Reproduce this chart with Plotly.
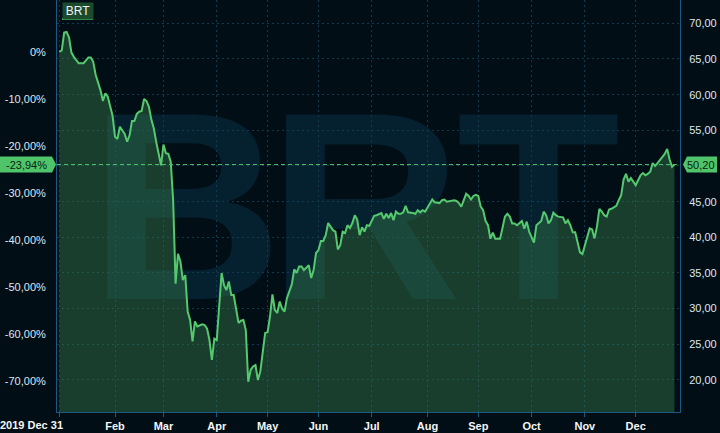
import plotly.graph_objects as go

# ---------------- data ----------------
dates = [
    "2019-12-31", "2020-01-02", "2020-01-03", "2020-01-06", "2020-01-07", "2020-01-08", "2020-01-09", "2020-01-10",
    "2020-01-13", "2020-01-14", "2020-01-15", "2020-01-16", "2020-01-17", "2020-01-20", "2020-01-21", "2020-01-22",
    "2020-01-23", "2020-01-24", "2020-01-27", "2020-01-28", "2020-01-29", "2020-01-30", "2020-01-31",
    "2020-02-03", "2020-02-04", "2020-02-05", "2020-02-06", "2020-02-07", "2020-02-10", "2020-02-11", "2020-02-12",
    "2020-02-13", "2020-02-14", "2020-02-17", "2020-02-18", "2020-02-19", "2020-02-20", "2020-02-21", "2020-02-24",
    "2020-02-25", "2020-02-26", "2020-02-27", "2020-02-28",
    "2020-03-02", "2020-03-03", "2020-03-04", "2020-03-05", "2020-03-06", "2020-03-09", "2020-03-10", "2020-03-11",
    "2020-03-12", "2020-03-13", "2020-03-16", "2020-03-17", "2020-03-18", "2020-03-19", "2020-03-20", "2020-03-23",
    "2020-03-24", "2020-03-25", "2020-03-26", "2020-03-27", "2020-03-30", "2020-03-31",
    "2020-04-01", "2020-04-02", "2020-04-03", "2020-04-06", "2020-04-07", "2020-04-08", "2020-04-09", "2020-04-13",
    "2020-04-14", "2020-04-15", "2020-04-16", "2020-04-17", "2020-04-20", "2020-04-21", "2020-04-22", "2020-04-23",
    "2020-04-24", "2020-04-27", "2020-04-28", "2020-04-29", "2020-04-30",
    "2020-05-01", "2020-05-04", "2020-05-05", "2020-05-06", "2020-05-07", "2020-05-08", "2020-05-11", "2020-05-12",
    "2020-05-13", "2020-05-14", "2020-05-15", "2020-05-18", "2020-05-19", "2020-05-20", "2020-05-21", "2020-05-22",
    "2020-05-25", "2020-05-26", "2020-05-27", "2020-05-28", "2020-05-29",
    "2020-06-01", "2020-06-02", "2020-06-03", "2020-06-04", "2020-06-05", "2020-06-08", "2020-06-09", "2020-06-10",
    "2020-06-11", "2020-06-12", "2020-06-15", "2020-06-16", "2020-06-17", "2020-06-18", "2020-06-19", "2020-06-22",
    "2020-06-23", "2020-06-24", "2020-06-25", "2020-06-26", "2020-06-29", "2020-06-30",
    "2020-07-01", "2020-07-02", "2020-07-03", "2020-07-06", "2020-07-07", "2020-07-08", "2020-07-09", "2020-07-10",
    "2020-07-13", "2020-07-14", "2020-07-15", "2020-07-16", "2020-07-17", "2020-07-20", "2020-07-21", "2020-07-22",
    "2020-07-23", "2020-07-24", "2020-07-27", "2020-07-28", "2020-07-29", "2020-07-30", "2020-07-31",
    "2020-08-03", "2020-08-04", "2020-08-05", "2020-08-06", "2020-08-07", "2020-08-10", "2020-08-11", "2020-08-12",
    "2020-08-13", "2020-08-14", "2020-08-17", "2020-08-18", "2020-08-19", "2020-08-20", "2020-08-21", "2020-08-24",
    "2020-08-25", "2020-08-26", "2020-08-27", "2020-08-28", "2020-08-31",
    "2020-09-01", "2020-09-02", "2020-09-03", "2020-09-04", "2020-09-07", "2020-09-08", "2020-09-09", "2020-09-10",
    "2020-09-11", "2020-09-14", "2020-09-15", "2020-09-16", "2020-09-17", "2020-09-18", "2020-09-21", "2020-09-22",
    "2020-09-23", "2020-09-24", "2020-09-25", "2020-09-28", "2020-09-29", "2020-09-30",
    "2020-10-01", "2020-10-02", "2020-10-05", "2020-10-06", "2020-10-07", "2020-10-08", "2020-10-09", "2020-10-12",
    "2020-10-13", "2020-10-14", "2020-10-15", "2020-10-16", "2020-10-19", "2020-10-20", "2020-10-21", "2020-10-22",
    "2020-10-23", "2020-10-26", "2020-10-27", "2020-10-28", "2020-10-29", "2020-10-30",
    "2020-11-02", "2020-11-03", "2020-11-04", "2020-11-05", "2020-11-06", "2020-11-09", "2020-11-10", "2020-11-11",
    "2020-11-12", "2020-11-13", "2020-11-16", "2020-11-17", "2020-11-18", "2020-11-19", "2020-11-20", "2020-11-23",
    "2020-11-24", "2020-11-25", "2020-11-26", "2020-11-27", "2020-11-30",
    "2020-12-01", "2020-12-02", "2020-12-03", "2020-12-04", "2020-12-07", "2020-12-08", "2020-12-09", "2020-12-10",
    "2020-12-11", "2020-12-14", "2020-12-15", "2020-12-16", "2020-12-17", "2020-12-18", "2020-12-21", "2020-12-22",
    "2020-12-23",
]
prices = [
    66.0, 66.2, 68.7, 68.8, 68.0, 65.9, 65.3, 64.9,
    64.4, 64.4, 64.4, 64.8, 65.2, 65.2, 64.6, 62.8,
    61.8, 60.6, 59.1, 60.2, 59.7, 58.5, 57.0,
    54.1, 53.8, 55.5, 55.0, 54.5, 53.4, 54.3, 56.3,
    56.3, 57.3, 57.6, 57.7, 59.4, 59.1, 58.3, 56.5,
    55.3, 53.4, 51.8, 50.1,
    53.0, 51.8, 51.7, 50.6, 45.2, 33.5, 37.7, 36.6,
    34.0, 34.7, 29.6, 28.4, 25.4, 28.2, 27.5, 27.7,
    27.8, 27.7, 27.2, 25.6, 22.8, 25.8,
    25.6, 30.3, 35.0, 33.3, 32.6, 33.8, 31.9, 31.9,
    29.8, 28.0, 28.3, 28.4, 27.0, 19.75, 21.4, 21.9,
    22.1, 20.0, 21.2, 23.7, 26.6,
    26.7, 28.9, 32.0, 29.8, 29.4, 31.0, 30.0, 29.6,
    31.5, 32.6, 33.4, 35.5, 35.0, 35.9, 35.9, 35.4,
    35.8, 36.1, 34.3, 35.4, 37.8,
    38.2, 39.5, 39.5, 40.3, 42.0, 41.5, 41.0, 40.8,
    38.3, 38.9, 40.8, 40.6, 41.7, 41.3, 42.0, 43.1,
    42.5, 40.3, 41.4, 40.8, 41.7, 41.6,
    42.4, 43.0, 43.1, 43.2, 43.4, 42.6, 43.3, 42.7,
    43.4, 42.4, 43.6, 43.3, 43.3, 43.5, 44.4, 43.5,
    43.5, 43.4, 43.3, 43.8, 43.5, 43.8, 43.6,
    44.2, 44.6, 45.3, 44.9, 44.9, 44.8, 45.2, 45.3,
    45.0, 45.1, 45.2, 45.2, 45.1, 44.8, 44.3, 45.1,
    46.1, 45.8, 45.3, 45.8, 45.95,
    45.8, 44.3, 43.8, 42.3, 41.7, 39.8, 40.65, 39.8,
    39.8, 39.8, 41.3, 42.9, 43.3, 42.9, 41.95, 41.95,
    41.7, 42.0, 42.3, 41.2, 42.2, 40.8,
    40.0, 39.25, 41.7, 42.0, 42.3, 43.6, 43.1, 41.95,
    42.4, 43.45, 43.1, 42.9, 42.9, 42.8, 41.95, 42.4,
    41.7, 40.7, 40.7, 39.2, 37.9, 37.65,
    38.9, 39.85, 41.25, 41.1, 39.85, 41.5, 44.0, 43.6,
    43.1, 42.9, 43.9, 44.0, 44.2, 44.4, 45.2, 45.9,
    48.1, 48.9, 47.8, 48.3, 47.8,
    47.3, 48.0, 48.7, 49.0, 48.7, 48.9, 49.2, 50.4,
    50.0, 50.4, 50.8, 51.2, 51.7, 52.4, 50.9, 49.9,
    50.2,
]
series_name = "BRT"
holidays = ["2020-01-01", "2020-04-10"]
x_tick_vals = ["2019-12-31", "2020-02-03", "2020-03-02", "2020-04-01", "2020-05-01", "2020-06-01",
               "2020-07-01", "2020-08-03", "2020-09-01", "2020-10-01", "2020-11-02", "2020-12-01"]
x_tick_text = ["", "Feb", "Mar", "Apr", "May", "Jun", "Jul", "Aug", "Sep", "Oct", "Nov", "Dec"]
first_tick_label = "2019 Dec 31"
price_ticks = [20, 25, 30, 35, 40, 45, 50, 55, 60, 65, 70]
pct_ticks = [0, -10, -20, -30, -40, -50, -60, -70]
pct_tick_text = ["0%", "-10,00%", "-20,00%", "-30,00%", "-40,00%", "-50,00%", "-60,00%", "-70,00%"]

# ---------------- style / layout ----------------
W, H = 720, 433
ML, MR, MT, MB = 57, 40, 0, 21
PW, PH = W - ML - MR, H - MT - MB
Y_MIN, Y_MAX = 15.51, 73.27

BG = "#020e16"
GRID = "#0f3a50"
AXIS = "#1b5a85"
LINE = "#55c96e"
FILL = "rgba(54,122,74,0.45)"
BADGE = "#4fc46a"
MARK = "#05202e"
TXT = "#dfe7ee"
FONT = "Liberation Sans, Arial"

def px2x(px):
    return (px - ML) / PW

def py2y(py):
    return 1 - (py - MT) / PH

base = prices[0]
last = prices[-1]
pct = [(p / base - 1) * 100 for p in prices]
last_pct = (last / base - 1) * 100

def fmt_comma(v, suffix=""):
    return f"{v:.2f}".replace(".", ",") + suffix

fig = go.Figure()
fig.add_trace(go.Scatter(
    x=dates, y=prices, mode="lines", line=dict(color=LINE, width=2),
    fill="tozeroy", fillcolor=FILL, name=series_name, hoverinfo="skip", yaxis="y",
))
fig.add_trace(go.Scatter(
    x=dates, y=pct, mode="lines", line=dict(width=0, color="rgba(0,0,0,0)"),
    showlegend=False, hoverinfo="skip", yaxis="y2",
))

last_y = (last - Y_MIN) / (Y_MAX - Y_MIN)
half = 8 / PH

shapes = []
# watermark letters, drawn beneath the grid and the data
for letter, (x0, x1) in zip(series_name, [(110, 262), (282, 448), (462, 615)]):
    shapes.append(dict(
        type="rect", xref="paper", yref="paper", x0=px2x(x0), x1=px2x(x1), y0=py2y(276), y1=py2y(86),
        fillcolor="rgba(0,0,0,0)", line=dict(width=0), layer="below",
        label=dict(text=letter, textposition="middle center",
                   font=dict(family=FONT, size=268, color=MARK, weight="bold")),
    ))
shapes += [
    dict(type="line", xref="paper", yref="y", x0=0, x1=1, y0=last, y1=last,
         line=dict(color=BADGE, width=1, dash="4px,3px"), layer="above"),
    # left badge (pointing right)
    dict(type="path", xref="paper", yref="paper",
         path=(f"M {px2x(0)},{last_y - half} L {px2x(52)},{last_y - half} L {px2x(56)},{last_y} "
               f"L {px2x(52)},{last_y + half} L {px2x(0)},{last_y + half} Z"),
         fillcolor=BADGE, line=dict(width=0), layer="above"),
    # right badge (pointing left)
    dict(type="path", xref="paper", yref="paper",
         path=(f"M {px2x(683)},{last_y} L {px2x(687)},{last_y - half} L {px2x(717)},{last_y - half} "
               f"L {px2x(717)},{last_y + half} L {px2x(687)},{last_y + half} Z"),
         fillcolor=BADGE, line=dict(width=0), layer="above"),
    # legend underline
    dict(type="line", xref="paper", yref="paper", x0=px2x(62), x1=px2x(93), y0=py2y(19), y1=py2y(19),
         line=dict(color=BADGE, width=2), layer="above"),
]

annotations = [
    dict(text=fmt_comma(last_pct, "%"), x=px2x(26), y=last_y, xref="paper", yref="paper",
         xanchor="center", yanchor="middle", showarrow=False,
         font=dict(family=FONT, size=11, color="#0a2410")),
    dict(text=fmt_comma(last), x=px2x(701), y=last_y, xref="paper", yref="paper",
         xanchor="center", yanchor="middle", showarrow=False,
         font=dict(family=FONT, size=11, color="#0a2410")),
    dict(text=series_name, x=px2x(77.5), y=py2y(11), xref="paper", yref="paper",
         xanchor="center", yanchor="middle", showarrow=False, bgcolor="#1b4a2d",
         width=27, height=13, borderpad=1.5,
         font=dict(family=FONT, size=12, color="#f2f5f2")),
    dict(text=first_tick_label, x=px2x(65), y=py2y(424.5), xref="paper", yref="paper",
         xanchor="right", yanchor="middle", showarrow=False,
         font=dict(family=FONT, size=11, color="#f4f6f8", weight="bold")),
]

fig.update_layout(
    width=W, height=H, margin=dict(l=ML, r=MR, t=MT, b=MB, pad=0),
    paper_bgcolor=BG, plot_bgcolor="rgba(0,0,0,0)", showlegend=False, hovermode=False,
    separators=",.",
    font=dict(family=FONT, size=11, color=TXT),
    xaxis=dict(
        type="date", range=["2019-12-30 01:00", "2020-12-25 07:00"],
        rangebreaks=[dict(bounds=["sat", "mon"]), dict(values=holidays)],
        tickvals=x_tick_vals, ticktext=x_tick_text,
        showgrid=True, gridcolor=GRID, griddash="2px,3px", gridwidth=1,
        showline=True, linecolor=AXIS, linewidth=1,
        ticks="outside", ticklen=4, tickcolor=AXIS,
        tickfont=dict(size=11, color="#f4f6f8", weight="bold"),
        zeroline=False, fixedrange=True,
    ),
    yaxis=dict(
        range=[Y_MIN, Y_MAX], side="right", tickvals=price_ticks, tickformat=".2f",
        showgrid=True, gridcolor=GRID, griddash="2px,3px", gridwidth=1,
        showline=True, linecolor=AXIS, linewidth=1, ticks="", zeroline=False,
        tickfont=dict(size=11, color=TXT), ticklabelstandoff=6,
    ),
    yaxis2=dict(
        range=[(Y_MIN / base - 1) * 100, (Y_MAX / base - 1) * 100], overlaying="y", side="left",
        tickvals=pct_ticks, ticktext=pct_tick_text, showgrid=False, zeroline=False,
        showline=True, linecolor=AXIS, linewidth=1, ticks="",
        tickfont=dict(size=11, color=TXT), ticklabelstandoff=8,
    ),
    shapes=shapes, annotations=annotations,
)

fig.write_html(
    "out.html",
    config={"displayModeBar": False, "staticPlot": True},
    post_script="document.body.style.margin='0px';document.body.style.overflow='hidden';",
)
